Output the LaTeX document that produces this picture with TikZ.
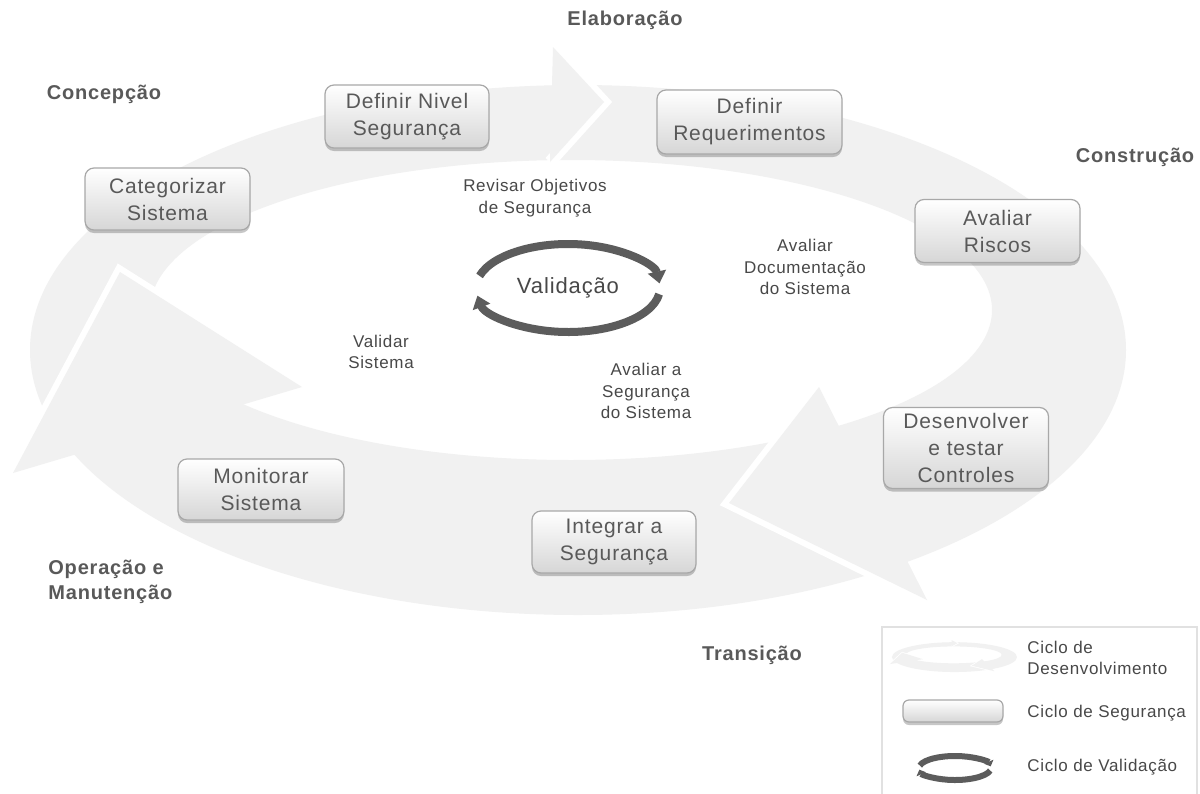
\documentclass[tikz,border=0pt]{standalone}
\usepackage{fontspec}
\setmainfont{Liberation Sans}[LetterSpace=4.0]
\usetikzlibrary{arrows.meta,shadows}

\definecolor{ringgray}{RGB}{241,241,241}
\definecolor{txt}{RGB}{89,89,89}
\definecolor{lbl}{RGB}{72,72,72}
\definecolor{valgray}{RGB}{92,92,92}
\definecolor{boxedge}{RGB}{168,168,168}
\definecolor{boxbot}{RGB}{214,214,214}
\definecolor{legedge}{RGB}{225,225,225}

\newcommand\boxfont{\fontsize{10.5}{13.5}\selectfont}
\newcommand\phasefont{\fontsize{10}{12.8}\selectfont\bfseries}
\newcommand\labelfont{\fontsize{8.5}{10.7}\selectfont}
\newcommand\valfont{\fontsize{11}{13}\selectfont}

% Development cycle: an elliptic band cut into three arrows.
% #1 = width of the white line that opens the gap in front of each head
\newcommand\devcycle[1]{%
  \fill[ringgray, even odd rule]
    (578,350) ellipse [x radius=548, y radius=265]
    (571,310) ellipse [x radius=421, y radius=150];
  % head at the top
  \draw[white, line width=#1, line join=miter] (553,47) -- (604,102) -- (550,162);
  \fill[ringgray] (553,47) -- (604,102) -- (550,162) -- cycle;
  % head at the lower right
  \draw[white, line width=#1, line join=miter] (819,387) -- (729,503) -- (927,600);
  \fill[ringgray] (819,387) -- (729,503) -- (927,600) -- cycle;
  % head at the left
  \draw[white, line width=#1, line join=miter] (302,387) -- (120,272) -- (13,473);
  \fill[ringgray] (302,387) -- (120,272) -- (13,473) -- cycle;
}

\begin{document}
\begin{tikzpicture}[x=0.5pt,y=-0.5pt,
  secbox/.style={draw=boxedge, line width=0.6pt, rounded corners=4.5pt,
    top color=white, bottom color=boxbot,
    drop shadow={shadow xshift=0pt, shadow yshift=-1.5pt, opacity=0.22, fill=black},
    text=txt, align=center, font=\boxfont, inner sep=0pt},
  phase/.style={text=txt, font=\phasefont, inner sep=0pt},
  steplabel/.style={text=lbl, align=center, font=\labelfont, inner sep=0pt},
  legtext/.style={text=lbl, align=left, font=\labelfont, inner sep=0pt, anchor=west},
  valarc/.style={draw=valgray, line width=4pt, -{Triangle[width=9pt,length=6pt]}}
]
\useasboundingbox[fill=white] (0,0) rectangle (1200,793);

% ---- development cycle ----
\devcycle{6pt}

% ---- phase names ----
\node[phase] (elab) at (625,20) {Elaboração};
\node[phase] (conc) at (104,94) {Concepção};
\node[phase] (cons) at (1135,157) {Construção};
\node[phase] (tran) at (752,655) {Transição};
\node[phase, anchor=west, align=left] (oper) at (48,582) {Operação e\\Manutenção};

% ---- security cycle steps ----
\node[secbox, minimum width=82pt, minimum height=31.5pt] (nivel) at (407,116.5) {Definir Nivel\\Segurança};
\node[secbox, minimum width=92.5pt, minimum height=32pt] (req) at (749.5,122) {Definir\\Requerimentos};
\node[secbox, minimum width=82.5pt, minimum height=31pt] (categ) at (167.5,199) {Categorizar\\Sistema};
\node[secbox, minimum width=82.5pt, minimum height=31.5pt] (riscos) at (997.5,231) {Avaliar\\Riscos};
\node[secbox, minimum width=82.5pt, minimum height=40.5pt] (desenv) at (966,448) {Desenvolver\\e testar\\Controles};
\node[secbox, minimum width=83pt, minimum height=30.5pt] (monit) at (261,489.5) {Monitorar\\Sistema};
\node[secbox, minimum width=82pt, minimum height=31pt] (integ) at (614,542) {Integrar a\\Segurança};

% ---- validation cycle ----
\coordinate (vc) at (568,288);
\draw[valarc] ([shift={(196:92 and 44)}]vc) arc[start angle=196, end angle=354, x radius=92, y radius=44];
\draw[valarc] ([shift={(8:92 and 44)}]vc) arc[start angle=8, end angle=170, x radius=92, y radius=44];
\node[text=lbl, font=\valfont, inner sep=0pt] (valid) at (vc) {Validação};

% ---- validation activities ----
\node[steplabel] (revisar) at (535,198) {Revisar Objetivos\\de Segurança};
\node[steplabel] (avdoc) at (805,267) {Avaliar\\Documentação\\do Sistema};
\node[steplabel] (valsis) at (381,352) {Validar\\Sistema};
\node[steplabel] (avseg) at (646,391) {Avaliar a\\Segurança\\do Sistema};

% ---- legend ----
\draw[legedge, line width=0.7pt] (882,800) |- (1197,627) -- (1197,800);
\begin{scope}[shift={(888.5,637.4)}, xscale=0.1141, yscale=0.0563]
  \devcycle{0.8pt}
\end{scope}
\node[legtext] (lgdev) at (1027,658) {Ciclo de\\Desenvolvimento};
\node[secbox, minimum width=50pt, minimum height=11pt, rounded corners=3pt] (lgbox) at (953,711) {};
\node[legtext] (lgsec) at (1027,713) {Ciclo de Segurança};
\coordinate (lc) at (955,768);
\draw[draw=valgray, line width=3pt, -{Triangle[width=5pt,length=2.5pt]}]
  ([shift={(192:36 and 12)}]lc) arc[start angle=192, end angle=352, x radius=36, y radius=12];
\draw[draw=valgray, line width=3pt, -{Triangle[width=5pt,length=2.5pt]}]
  ([shift={(12:36 and 12)}]lc) arc[start angle=12, end angle=172, x radius=36, y radius=12];
\node[legtext] (lgval) at (1027,767) {Ciclo de Validação};
\end{tikzpicture}
\end{document}
